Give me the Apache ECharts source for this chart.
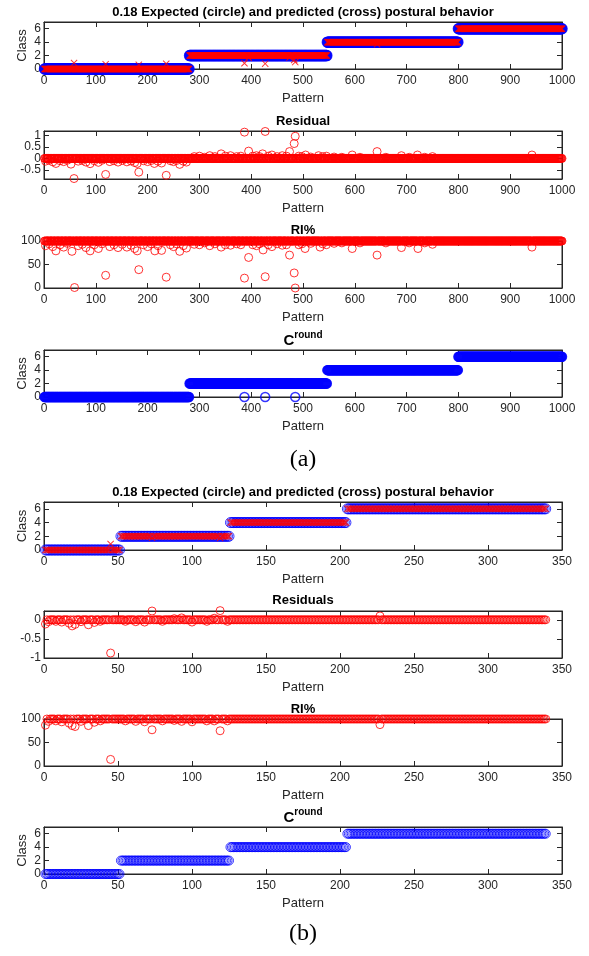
<!DOCTYPE html>
<html>
<head>
<meta charset="utf-8">
<script src="https://cdn.jsdelivr.net/npm/echarts@6/dist/echarts.min.js"></script>
<style>
html, body { margin: 0; padding: 0; background: #fff; }
#container { width: 589px; height: 956px; }
</style>
</head>
<body>
<div id="container"></div>
<script>
// ---------- data (a): 1000 patterns ----------
// runs are [first pattern, last pattern, value]
var classRunsA = [[1, 280, 0], [281, 546, 2], [547, 799, 4], [800, 1000, 6]];
var predOutA = [[58, 0.9], [119, 0.72], [183, 0.62], [236, 0.78], [387, 0.85], [395, 1.68], [427, 0.8], [474, 1.7], [483, 1.35], [485, 1.03], [643, 3.7]];
var residRunsA = [[1, 1000, 0]];
var residOutA = [
	[3, -0.12], [10, -0.08], [17, -0.15], [23, -0.22], [31, -0.1], [38, -0.14], [45, -0.08], [52, -0.25], [58, -0.88],
	[66, -0.12], [74, -0.09], [81, -0.16], [89, -0.23], [97, -0.1], [105, -0.17], [112, -0.08], [119, -0.7], [127, -0.14],
	[135, -0.1], [143, -0.16], [151, -0.09], [160, -0.15], [168, -0.11], [175, -0.18], [180, -0.22], [183, -0.6], [192, -0.1],
	[200, -0.14], [207, -0.09], [213, -0.22], [220, -0.12], [227, -0.2], [236, -0.74], [244, -0.1], [250, -0.14], [256, -0.09],
	[262, -0.26], [269, -0.12], [275, -0.16],
	[290, 0.08], [300, 0.1], [310, 0.05], [320, 0.12], [330, 0.08], [342, 0.2], [350, 0.1], [360, 0.12], [372, 0.08], [380, 0.1],
	[387, 1.15], [395, 0.32], [403, 0.1], [410, 0.12], [416, 0.08], [422, 0.2], [427, 1.18], [433, 0.1], [440, 0.15], [450, 0.08],
	[460, 0.12], [468, 0.1], [474, 0.3], [483, 0.65], [485, 0.97], [492, 0.1], [498, 0.08], [505, 0.15], [515, 0.06], [530, 0.12],
	[538, 0.08], [545, 0.1], [560, 0.06], [575, 0.05], [595, 0.15], [610, 0.05], [643, 0.3], [660, 0.05], [690, 0.12], [705, 0.05],
	[721, 0.15], [735, 0.05], [750, 0.08], [942, 0.15]
];
var riRunsA = [[1, 1000, 100]];
var riOutA = [
	[3, 90], [10, 94], [17, 88], [23, 79], [31, 92], [38, 87], [45, 95], [54, 78], [59, 1], [66, 90], [74, 93], [81, 86],
	[89, 79], [97, 92], [105, 84], [112, 94], [119, 27], [127, 88], [135, 92], [143, 86], [151, 93], [160, 87], [168, 91],
	[175, 84], [180, 79], [183, 39], [192, 92], [200, 88], [207, 94], [214, 79], [220, 90], [227, 80], [236, 23], [244, 92],
	[250, 88], [256, 94], [262, 78], [269, 90], [275, 85],
	[290, 93], [300, 92], [310, 96], [320, 90], [330, 94], [342, 87], [350, 92], [360, 91], [372, 94], [380, 92], [387, 21],
	[395, 65], [403, 92], [410, 90], [416, 94], [423, 81], [427, 24], [433, 92], [440, 88], [450, 94], [460, 91], [468, 92],
	[474, 70], [483, 32], [485, 0], [492, 92], [498, 94], [504, 84], [515, 95], [533, 87], [538, 94], [545, 92],
	[560, 95], [575, 96], [595, 84], [610, 96], [643, 70], [660, 96], [690, 86], [705, 96], [722, 84], [735, 96], [750, 93], [942, 87]
];
var roundOutA = [[387, 0], [427, 0], [485, 0]];

// ---------- data (b): 339 patterns ----------
var classRunsB = [[1, 51, 0], [52, 125, 2], [126, 204, 4], [205, 339, 6]];
var predOutB = [[45, 0.87], [73, 1.77], [119, 1.76]];
var residRunsB = [[1, 339, 0]];
var residOutB = [
	[1, -0.11], [3, -0.05], [8, -0.04], [12, -0.06], [17, -0.09], [19, -0.16], [21, -0.12], [25, -0.05], [30, -0.13],
	[34, -0.07], [38, -0.04], [45, -0.87], [55, -0.04], [62, -0.05], [68, -0.06], [73, 0.23], [80, -0.04], [88, 0.03],
	[93, 0.05], [100, -0.06], [110, -0.04], [115, 0.04], [119, 0.24], [124, -0.04], [227, 0.1]
];
var riRunsB = [[1, 339, 100]];
var riOutB = [
	[1, 87], [3, 95], [8, 96], [12, 94], [17, 91], [19, 86], [21, 84], [25, 95], [30, 86], [34, 93], [38, 96], [45, 14],
	[55, 96], [62, 95], [68, 94], [73, 77], [80, 96], [88, 97], [93, 95], [100, 94], [110, 96], [115, 96], [119, 75],
	[124, 96], [227, 88]
];
var roundOutB = [];

// tick labels
var classTicks = [0, 2, 4, 6];
var residTicksA = [-0.5, 0, 0.5, 1];
var residTicksB = [-1, -0.5, 0];
var riTicks = [0, 50, 100];

var titleMain = '0.18 Expected (circle) and predicted (cross) postural behavior';

// expand runs into points, then replace single patterns by the listed values
function expand(runs, outs) {
	var map = {};
	runs.forEach(function(r) {
		for (var i = r[0]; i <= r[1]; i++) map[i] = r[2];
	});
	outs.forEach(function(o) { map[o[0]] = o[1]; });
	return Object.keys(map).map(function(k) { return [+k, map[k]]; });
}

var FONT = 'Liberation Sans';
var AX = '#262626';
var CROSS = 'path://M1,0L5,4L9,0L10,1L6,5L10,9L9,10L5,6L1,10L0,9L4,5L0,1Z';
var LEFT = 44, RIGHT = 27, CX = 303;
var plain = function(v) { return String(v); };

var blueRing = { color: 'rgba(0,0,0,0)', borderColor: '#0000ff', borderWidth: 1.5 };
var blueThin = { color: 'rgba(0,0,0,0)', borderColor: '#0000ff', borderWidth: 1 };
var redRing = { color: 'rgba(0,0,0,0)', borderColor: '#ff0000', borderWidth: 1 };

var panels = [
	{ top: 22, h: 47, xmax: 1000, xint: 100, ymin: 0, ymax: 7, ticks: classTicks, yName: 'Class', titleY: 12, title: titleMain,
		series: [
			{ data: expand(classRunsA, []), symbol: 'circle', size: 10, style: blueRing },
			{ data: expand(classRunsA, predOutA), symbol: CROSS, size: 7, style: { color: '#ff0000' } }
		] },
	{ top: 131, h: 48, xmax: 1000, xint: 100, ymin: -0.9, ymax: 1.2, ticks: residTicksA, titleY: 121, title: 'Residual',
		series: [{ data: expand(residRunsA, residOutA), symbol: 'circle', size: 8, style: redRing }] },
	{ top: 241, h: 47, xmax: 1000, xint: 100, ymin: 0, ymax: 100, ticks: riTicks, titleY: 230, title: 'RI%',
		series: [{ data: expand(riRunsA, riOutA), symbol: 'circle', size: 8, style: redRing }] },
	{ top: 350, h: 47, xmax: 1000, xint: 100, ymin: 0, ymax: 7, ticks: classTicks, yName: 'Class', titleY: 339, rich: true,
		series: [{ data: expand(classRunsA, roundOutA), symbol: 'circle', size: 9, style: blueRing }] },
	{ top: 502, h: 48, xmax: 350, xint: 50, ymin: 0, ymax: 7, ticks: classTicks, yName: 'Class', titleY: 492, title: titleMain,
		series: [
			{ data: expand(classRunsB, []), symbol: 'circle', size: 10, style: blueThin },
			{ data: expand(classRunsB, predOutB), symbol: CROSS, size: 7, style: { color: '#ff0000' } }
		] },
	{ top: 611, h: 47, xmax: 350, xint: 50, ymin: -1, ymax: 0.23, ticks: residTicksB, titleY: 600, title: 'Residuals',
		series: [{ data: expand(residRunsB, residOutB), symbol: 'circle', size: 8, style: redRing }] },
	{ top: 719, h: 47, xmax: 350, xint: 50, ymin: 0, ymax: 100, ticks: riTicks, titleY: 709, title: 'RI%',
		series: [{ data: expand(riRunsB, riOutB), symbol: 'circle', size: 8, style: redRing }] },
	{ top: 827, h: 47, xmax: 350, xint: 50, ymin: 0, ymax: 7, ticks: classTicks, yName: 'Class', titleY: 816, rich: true,
		series: [{ data: expand(classRunsB, roundOutB), symbol: 'circle', size: 9, style: blueThin }] }
];

var grids = [], xAxes = [], yAxes = [], series = [], graphics = [];
var yLabelStyle = { color: AX, fontSize: 12, fontFamily: FONT, margin: 3, formatter: plain,
	hideOverlap: false, showMinLabel: true, showMaxLabel: true };

panels.forEach(function(p, gi) {
	grids.push({ left: LEFT, right: RIGHT, top: p.top, height: p.h, show: true, borderColor: AX, borderWidth: 1, backgroundColor: '#fff' });
	var xIdx = xAxes.length, yIdx = yAxes.length;
	var xBase = { gridIndex: gi, type: 'value', min: 0, max: p.xmax, interval: p.xint, splitLine: { show: false } };
	xAxes.push(Object.assign({}, xBase, {
		position: 'bottom',
		name: 'Pattern', nameLocation: 'middle', nameGap: 23, nameMoveOverlap: false,
		nameTextStyle: { color: AX, fontSize: 13, fontFamily: FONT },
		axisLine: { show: true, onZero: false, lineStyle: { color: AX } },
		axisTick: { inside: true, length: 5, lineStyle: { color: AX } },
		axisLabel: { color: AX, fontSize: 12, fontFamily: FONT, margin: 6, formatter: plain, hideOverlap: false,
			showMinLabel: true, showMaxLabel: true }
	}));
	xAxes.push(Object.assign({}, xBase, {
		position: 'top',
		axisLine: { show: true, onZero: false, lineStyle: { color: AX } },
		axisTick: { inside: true, length: 5, lineStyle: { color: AX } },
		axisLabel: { show: false }
	}));
	// tick labels are split over two left axes so that none of them get dropped as overlapping
	var evenTicks = p.ticks.filter(function(v, i) { return i % 2 === 0; });
	var oddTicks = p.ticks.filter(function(v, i) { return i % 2 === 1; });
	var yBase = { gridIndex: gi, type: 'value', min: p.ymin, max: p.ymax, splitLine: { show: false } };
	yAxes.push(Object.assign({}, yBase, {
		position: 'left',
		name: p.yName || '', nameLocation: 'middle', nameGap: 15, nameMoveOverlap: false,
		nameTextStyle: { color: AX, fontSize: 13, fontFamily: FONT },
		axisLine: { show: true, onZero: false, lineStyle: { color: AX } },
		axisTick: { inside: true, length: 5, customValues: p.ticks, lineStyle: { color: AX } },
		axisLabel: Object.assign({ customValues: evenTicks }, yLabelStyle)
	}));
	yAxes.push(Object.assign({}, yBase, {
		position: 'left',
		axisLine: { show: false, onZero: false },
		axisTick: { show: false },
		axisLabel: Object.assign({ customValues: oddTicks }, yLabelStyle)
	}));
	yAxes.push(Object.assign({}, yBase, {
		position: 'right',
		axisLine: { show: true, onZero: false, lineStyle: { color: AX } },
		axisTick: { inside: true, length: 5, customValues: p.ticks, lineStyle: { color: AX } },
		axisLabel: { show: false }
	}));
	p.series.forEach(function(s) {
		series.push({
			type: 'scatter', xAxisIndex: xIdx, yAxisIndex: yIdx,
			data: s.data, symbol: s.symbol, symbolSize: s.size,
			itemStyle: s.style, clip: false, silent: true
		});
	});
	if (p.rich) {
		graphics.push({
			type: 'text', x: CX, y: p.titleY,
			style: {
				text: '{c|C}{s|round}', align: 'center', verticalAlign: 'middle',
				rich: {
					c: { fontSize: 15, fontWeight: 'bold', fontFamily: FONT, fill: '#000', verticalAlign: 'bottom', lineHeight: 18 },
					s: { fontSize: 10, fontWeight: 'bold', fontFamily: FONT, fill: '#000', verticalAlign: 'top', lineHeight: 18 }
				}
			}
		});
	} else {
		graphics.push({
			type: 'text', x: CX, y: p.titleY,
			style: { text: p.title, font: 'bold 13px "' + FONT + '"', fill: '#000', align: 'center', verticalAlign: 'middle' }
		});
	}
});

graphics.push({ type: 'text', x: CX, y: 460, style: { text: '(a)', font: '24px "Liberation Serif"', fill: '#000', align: 'center', verticalAlign: 'middle' } });
graphics.push({ type: 'text', x: CX, y: 934, style: { text: '(b)', font: '24px "Liberation Serif"', fill: '#000', align: 'center', verticalAlign: 'middle' } });

var myChart = echarts.init(document.getElementById('container'), null, { renderer: 'canvas' });
myChart.setOption({
	animation: false,
	backgroundColor: '#fff',
	grid: grids,
	xAxis: xAxes,
	yAxis: yAxes,
	series: series,
	graphic: graphics
});
</script>
</body>
</html>
